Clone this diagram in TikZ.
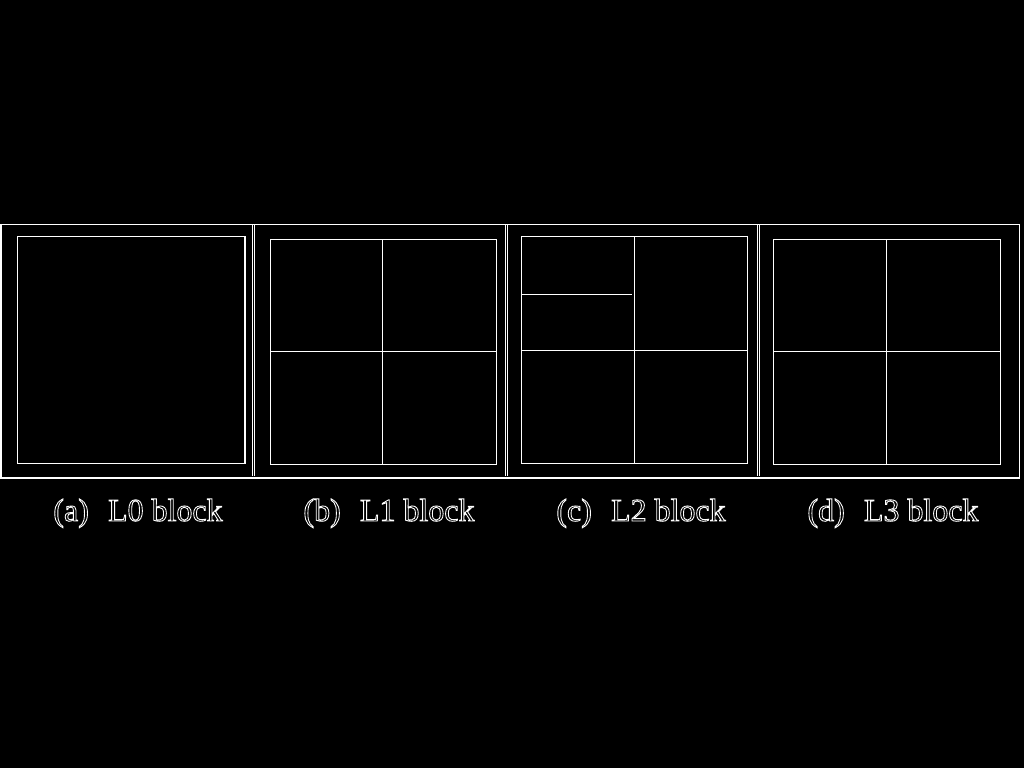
\documentclass[tikz,border=0pt]{standalone}
\usepackage{fontspec}
\setmainfont{Liberation Serif}
\newcommand{\outlined}[1]{\special{pdf:literal direct 1 Tr 0.5 w}#1\special{pdf:literal direct 0 Tr}}
\begin{document}
\begin{tikzpicture}[x=0.02cm,y=-0.02cm,
	frame/.style={white, line width=0.6pt},
	cell/.style={white, line width=0.6pt},
	caption/.style={white, anchor=base, font=\fontsize{18.2}{21}\selectfont}]

	\fill[black] (0,0) rectangle (1024,768);
	\useasboundingbox (0,0) rectangle (1024,768);

	%outer frame and panel separators
	\draw[frame] (1,224.5) rectangle (1019.3,478);
	\draw[frame] (252.5,225) -- (252.5,476);
	\draw[frame] (254.3,225) -- (254.3,476);
	\draw[frame] (505.7,225) -- (505.7,476);
	\draw[frame] (507.7,225) -- (507.7,476);
	\draw[frame] (757.7,225) -- (757.7,476);
	\draw[frame] (759.5,225) -- (759.5,476);

	%L0: one block
	\draw[cell] (17.5,236.3) rectangle (245,463.3);

	%L1: four blocks
	\draw[cell] (270.3,239.3) rectangle (496.3,464.3);
	\draw[cell] (382.7,239.3) -- (382.7,464.3);
	\draw[cell] (270.3,351.3) -- (496.3,351.3);

	%L2: four blocks, upper left split again
	\draw[cell] (521.3,236.3) rectangle (747.3,463.3);
	\draw[cell] (634.3,236.3) -- (634.3,463.3);
	\draw[cell] (521.3,350.3) -- (747.3,350.3);
	\draw[cell] (521.3,294.3) -- (632,294.3);

	%L3: four blocks
	\draw[cell] (773.3,239.3) rectangle (1000.3,464.3);
	\draw[cell] (886.3,239.3) -- (886.3,464.3);
	\draw[cell] (773.3,351.3) -- (1000.3,351.3);

	%captions
	\node[caption] (capA) at (138,521) {\outlined{(a)\hspace{0.6em}L0 block}};
	\node[caption] (capB) at (389,521) {\outlined{(b)\hspace{0.6em}L1 block}};
	\node[caption] (capC) at (641,521) {\outlined{(c)\hspace{0.6em}L2 block}};
	\node[caption] (capD) at (893,521) {\outlined{(d)\hspace{0.6em}L3 block}};

\end{tikzpicture}
\end{document}
